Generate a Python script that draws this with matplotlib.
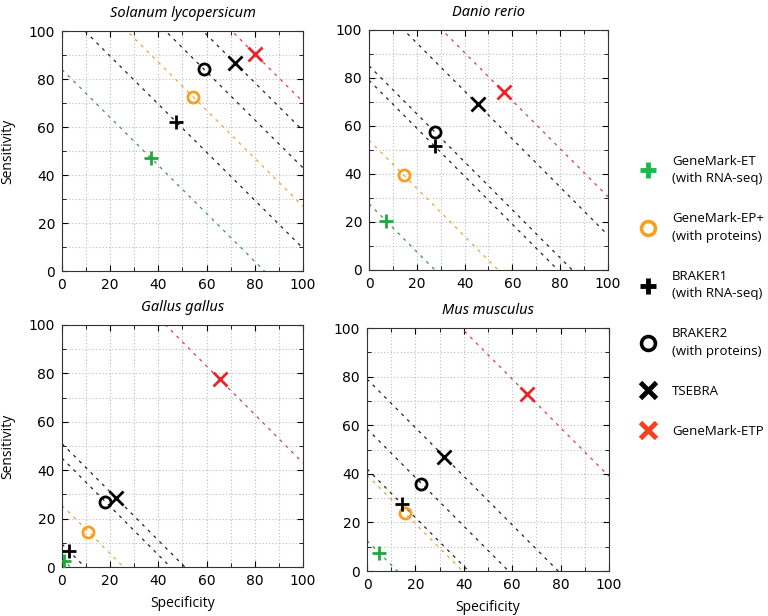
import matplotlib.pyplot as plt
from matplotlib.lines import Line2D
from matplotlib.ticker import MultipleLocator
import numpy as np

species = ['Solanum lycopersicum', 'Danio rerio', 'Gallus gallus', 'Mus musculus']
tools = ['GeneMark-ET\n(with RNA-seq)', 'GeneMark-EP+\n(with proteins)', 'BRAKER1\n(with RNA-seq)',
         'BRAKER2\n(with proteins)', 'TSEBRA', 'GeneMark-ETP']

# specificity / sensitivity per species, in tool order
spec = {
    'Solanum lycopersicum': [37, 54.5, 47.5, 59, 72, 80],
    'Danio rerio': [7, 14.5, 27.5, 27.5, 45.5, 56.5],
    'Gallus gallus': [1, 11, 3, 18, 22.5, 65.5],
    'Mus musculus': [5, 15.5, 14.5, 22.5, 32, 66],
}
sens = {
    'Solanum lycopersicum': [47, 72.5, 62, 84, 86.5, 90.5],
    'Danio rerio': [20.5, 39.5, 51.5, 57.5, 69, 74],
    'Gallus gallus': [2.5, 14.5, 6.5, 27, 28.5, 77.5],
    'Mus musculus': [7.5, 24, 27.5, 36, 47, 73],
}

markers = ['+', 'o', '+', 'o', 'x', 'x']
colors = ['#1fa83c', '#f5a01e', 'black', 'black', 'black', '#e8242a']
line_colors = ['#3a9a4a', '#e8a43a', '#222222', '#222222', '#222222', '#d8404a']
legend_colors = ['#1fb84c', '#f5a01e', 'black', 'black', 'black', '#ff3d1f']

plt.rcParams['font.family'] = 'DejaVu Sans'

fig = plt.figure(figsize=(7.68, 6.16), dpi=100)
positions = [
    [0.0807, 0.560, 0.3138, 0.3896],
    [0.4805, 0.562, 0.311, 0.3896],
    [0.0807, 0.0795, 0.3138, 0.393],
    [0.4779, 0.073, 0.315, 0.3945],
]

xs = np.linspace(0, 100, 201)
for i, sp in enumerate(species):
    ax = fig.add_axes(positions[i])
    for j in range(len(tools)):
        x0, y0 = spec[sp][j], sens[sp][j]
        ys = (x0 + y0) - xs
        ax.plot(xs, ys, linestyle=(0, (2.5, 4)), color=line_colors[j], lw=0.9, zorder=2)
        ax.plot(x0, y0, marker=markers[j], color=colors[j], ms=8 if markers[j] == 'o' else 10,
                mew=2.0, mfc='none', linestyle='none', zorder=3)
    ax.set_xlim(0, 100)
    ax.set_ylim(0, 100)
    ax.xaxis.set_major_locator(MultipleLocator(20))
    ax.yaxis.set_major_locator(MultipleLocator(20))
    ax.xaxis.set_minor_locator(MultipleLocator(10))
    ax.yaxis.set_minor_locator(MultipleLocator(10))
    ax.tick_params(which='both', direction='in', top=True, right=True, labelsize=10, pad=5)
    ax.tick_params(which='major', length=4)
    ax.tick_params(which='minor', length=3)
    ax.grid(which='both', linestyle=(0, (1, 2)), color='#bbbbbb', lw=0.8)
    ax.set_axisbelow(True)
    for s in ax.spines.values():
        s.set_color('#333333')
    ax.set_title(sp, style='italic', fontsize=10.5, pad=10, family='Noto Sans')
    if i % 2 == 0:
        ax.set_ylabel('Sensitivity', fontsize=10, labelpad=10, family='Open Sans')
    if i >= 2:
        ax.set_xlabel('Specificity', fontsize=10, labelpad=6, family='Open Sans')

handles = [Line2D([], [], marker=markers[j], color=legend_colors[j], linestyle='none',
                  ms=10 if markers[j] == 'o' else 11, mew=3.5 if markers[j] != 'o' else 2.6,
                  mfc='none') for j in range(len(tools))]
leg = fig.legend(handles, tools, loc='upper left', bbox_to_anchor=(0.82, 0.768), frameon=False,
                 prop={'family': 'Open Sans', 'size': 9.5}, handletextpad=1.3, labelspacing=2.05,
                 handlelength=1.0)
for t in leg.get_texts():
    t.set_linespacing(1.45)

fig.savefig('out.png', dpi=100)
